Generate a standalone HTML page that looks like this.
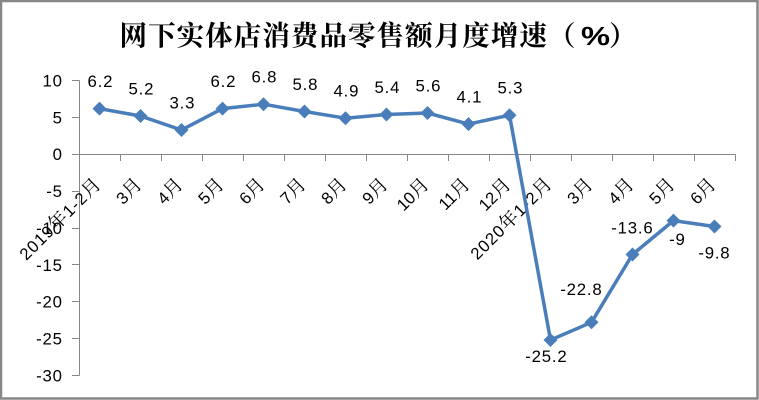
<!DOCTYPE html>
<html><head><meta charset="utf-8"><style>
html,body{margin:0;padding:0;background:#fff;}
svg{display:block;}
.t{font-family:"Liberation Sans","Noto Sans CJK SC",sans-serif;font-size:16.8px;fill:#000;}
.n{letter-spacing:0.8px;}
.c{font-family:"Noto Serif CJK SC","Liberation Serif",serif;font-size:18.7px;letter-spacing:0;}
</style></head><body>
<svg width="759" height="400" viewBox="0 0 759 400" xmlns="http://www.w3.org/2000/svg">
<rect x="0" y="0" width="759" height="400" fill="#fff"/>
<rect x="1" y="1" width="756.5" height="397.5" fill="none" stroke="#878787" stroke-width="2.5"/>
<!-- title -->
<text x="119.5" y="45" textLength="456" lengthAdjust="spacing" style="font-family:'Noto Serif CJK SC','Liberation Serif',serif;font-size:27.5px;font-weight:bold;fill:#000">网下实体店消费品零售额月度增速（</text>
<text x="581" y="45" textLength="29" lengthAdjust="spacingAndGlyphs" style="font-family:'Liberation Sans',sans-serif;font-size:26px;font-weight:bold;fill:#000">%</text>
<text x="609" y="45" style="font-family:'Noto Serif CJK SC','Liberation Serif',serif;font-size:27.5px;font-weight:bold;fill:#000">）</text>
<!-- axes -->
<g stroke="#868686" stroke-width="1" fill="none">
<line x1="79.5" y1="80.5" x2="79.5" y2="375.5"/>
<line x1="72" y1="80.5" x2="79.5" y2="80.5"/>
<line x1="72" y1="117.5" x2="79.5" y2="117.5"/>
<line x1="72" y1="154.5" x2="79.5" y2="154.5"/>
<line x1="72" y1="191.5" x2="79.5" y2="191.5"/>
<line x1="72" y1="228.5" x2="79.5" y2="228.5"/>
<line x1="72" y1="264.5" x2="79.5" y2="264.5"/>
<line x1="72" y1="301.5" x2="79.5" y2="301.5"/>
<line x1="72" y1="338.5" x2="79.5" y2="338.5"/>
<line x1="72" y1="375.5" x2="79.5" y2="375.5"/>
<line x1="79.5" y1="154.5" x2="735.5" y2="154.5"/>
<path d="M79.5 154.5V161 M120.5 154.5V161 M161.5 154.5V161 M202.5 154.5V161 M243.5 154.5V161 M284.5 154.5V161 M325.5 154.5V161 M366.5 154.5V161 M407.5 154.5V161 M448.5 154.5V161 M489.5 154.5V161 M530.5 154.5V161 M571.5 154.5V161 M612.5 154.5V161 M653.5 154.5V161 M694.5 154.5V161 M735.5 154.5V161"/>
</g>
<!-- y labels -->
<g class="t n" text-anchor="end">
<text x="62.8" y="86.5">10</text>
<text x="62.8" y="123.4">5</text>
<text x="62.8" y="160.2">0</text>
<text x="62.8" y="197.1">-5</text>
<text x="62.8" y="234">-10</text>
<text x="62.8" y="270.8">-15</text>
<text x="62.8" y="307.7">-20</text>
<text x="62.8" y="344.6">-25</text>
<text x="62.8" y="381.5">-30</text>
</g>
<!-- x labels -->
<g class="t" text-anchor="end">
<text x="102" y="185.5" transform="rotate(-45 102 185.5)" textLength="107" lengthAdjust="spacing">2019<tspan class="c">年</tspan>1-2<tspan class="c">月</tspan></text>
<text x="143" y="185.5" transform="rotate(-45 143 185.5)">3<tspan class="c">月</tspan></text>
<text x="184" y="185.5" transform="rotate(-45 184 185.5)">4<tspan class="c">月</tspan></text>
<text x="225" y="185.5" transform="rotate(-45 225 185.5)">5<tspan class="c">月</tspan></text>
<text x="266" y="185.5" transform="rotate(-45 266 185.5)">6<tspan class="c">月</tspan></text>
<text x="307" y="185.5" transform="rotate(-45 307 185.5)">7<tspan class="c">月</tspan></text>
<text x="348" y="185.5" transform="rotate(-45 348 185.5)">8<tspan class="c">月</tspan></text>
<text x="389" y="185.5" transform="rotate(-45 389 185.5)">9<tspan class="c">月</tspan></text>
<text x="430" y="185.5" transform="rotate(-45 430 185.5)">10<tspan class="c">月</tspan></text>
<text x="471" y="185.5" transform="rotate(-45 471 185.5)">11<tspan class="c">月</tspan></text>
<text x="512" y="185.5" transform="rotate(-45 512 185.5)">12<tspan class="c">月</tspan></text>
<text x="553" y="185" transform="rotate(-45 553 185)" textLength="107" lengthAdjust="spacing">2020<tspan class="c">年</tspan>1-2<tspan class="c">月</tspan></text>
<text x="594" y="185.5" transform="rotate(-45 594 185.5)">3<tspan class="c">月</tspan></text>
<text x="635" y="185.5" transform="rotate(-45 635 185.5)">4<tspan class="c">月</tspan></text>
<text x="676" y="185.5" transform="rotate(-45 676 185.5)">5<tspan class="c">月</tspan></text>
<text x="717" y="185.5" transform="rotate(-45 717 185.5)">6<tspan class="c">月</tspan></text>
</g>
<!-- series -->
<polyline fill="none" stroke="#4a7ebb" stroke-width="3.5" stroke-linejoin="round" points="99.5,108.6 140.5,116 181.5,130 222.5,108.6 263.5,104.2 304.5,111.5 345.5,118.2 386.5,114.5 427.5,113 468.5,124.1 509.5,115.2 550.5,340 591.5,322.3 632.5,254.5 673.5,220.6 714.5,226.5"/>
<g fill="#4a7ebb">
<path d="M99.5 101.6l7 7-7 7-7-7z"/>
<path d="M140.5 109l7 7-7 7-7-7z"/>
<path d="M181.5 123l7 7-7 7-7-7z"/>
<path d="M222.5 101.6l7 7-7 7-7-7z"/>
<path d="M263.5 97.2l7 7-7 7-7-7z"/>
<path d="M304.5 104.5l7 7-7 7-7-7z"/>
<path d="M345.5 111.2l7 7-7 7-7-7z"/>
<path d="M386.5 107.5l7 7-7 7-7-7z"/>
<path d="M427.5 106l7 7-7 7-7-7z"/>
<path d="M468.5 117.1l7 7-7 7-7-7z"/>
<path d="M509.5 108.2l7 7-7 7-7-7z"/>
<path d="M550.5 333l7 7-7 7-7-7z"/>
<path d="M591.5 315.3l7 7-7 7-7-7z"/>
<path d="M632.5 247.5l7 7-7 7-7-7z"/>
<path d="M673.5 213.6l7 7-7 7-7-7z"/>
<path d="M714.5 219.5l7 7-7 7-7-7z"/>
</g>
<!-- data labels -->
<g class="t n" text-anchor="middle">
<text x="100.4" y="87">6.2</text>
<text x="141.4" y="94.4">5.2</text>
<text x="182.4" y="108.4">3.3</text>
<text x="223.4" y="87">6.2</text>
<text x="264.4" y="82.6">6.8</text>
<text x="305.4" y="89.9">5.8</text>
<text x="346.4" y="96.6">4.9</text>
<text x="387.4" y="92.9">5.4</text>
<text x="428.4" y="91.4">5.6</text>
<text x="469.4" y="102.5">4.1</text>
<text x="510.4" y="93.6">5.3</text>
<text x="546.4" y="361.9">-25.2</text>
<text x="581.4" y="294.9">-22.8</text>
<text x="632.4" y="233.4">-13.6</text>
<text x="677.4" y="244.9">-9</text>
<text x="714.4" y="258.4">-9.8</text>
</g>
</svg>
</body></html>
